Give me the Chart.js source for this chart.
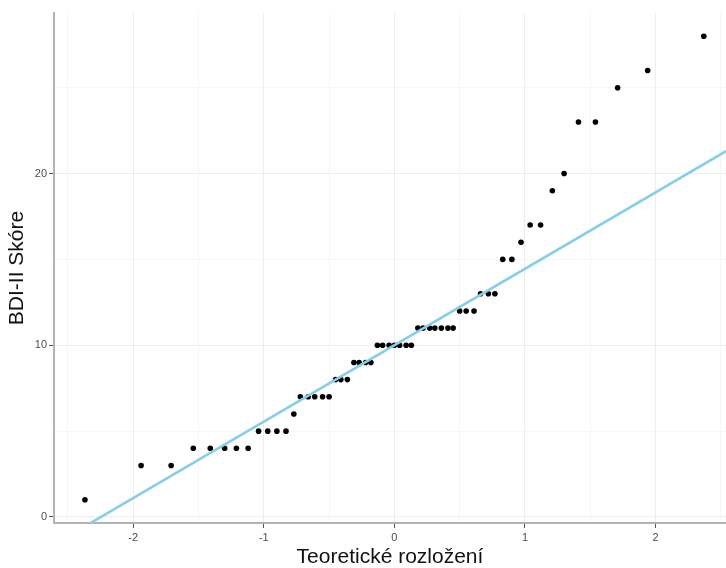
<!DOCTYPE html>
<html>
<head>
<meta charset="utf-8">
<script src="https://cdn.jsdelivr.net/npm/chart.js@4/dist/chart.umd.min.js"></script>
<style>
  html, body { margin: 0; padding: 0; background: #fff; }
  #wrap { width: 726px; height: 568px; }
</style>
</head>
<body>
<div id="wrap"><canvas id="myChart" width="726" height="568"></canvas></div>
<script>
// teoreticke kvantily (osa x) a namerene skore (osa y)
var teoretickeKvantily = [-2.37, -1.94, -1.71, -1.54, -1.41, -1.30, -1.21, -1.12, -1.04, -0.97,
  -0.90, -0.83, -0.77, -0.72, -0.66, -0.61, -0.55, -0.50, -0.45, -0.41,
  -0.36, -0.31, -0.27, -0.22, -0.18, -0.13, -0.09, -0.04, 0, 0.04,
  0.09, 0.13, 0.18, 0.22, 0.27, 0.31, 0.36, 0.41, 0.45, 0.50,
  0.55, 0.61, 0.66, 0.72, 0.77, 0.83, 0.90, 0.97, 1.04, 1.12,
  1.21, 1.30, 1.41, 1.54, 1.71, 1.94, 2.37];
var skore = [1, 3, 3, 4, 4, 4, 4, 4, 5, 5,
  5, 5, 6, 7, 7, 7, 7, 7, 8, 8,
  8, 9, 9, 9, 9, 10, 10, 10, 10, 10,
  10, 10, 11, 11, 11, 11, 11, 11, 11, 12,
  12, 12, 13, 13, 13, 15, 15, 16, 17, 17,
  19, 20, 23, 23, 25, 26, 28];

// primka (qq line), koncove body
var primkaX = [-2.61, 2.54];
var primkaY = [-1.61, 21.3];

var xTicks = [-2, -1, 0, 1, 2];
var yTicks = [0, 10, 20];

function jeHlavni(v, seznam) {
  for (var i = 0; i < seznam.length; i++) {
    if (Math.abs(seznam[i] - v) < 1e-6) return true;
  }
  return false;
}

function body(xs, ys) {
  var out = [];
  for (var i = 0; i < xs.length; i++) {
    out.push({x: xs[i], y: ys[i]});
  }
  return out;
}

var pismo = "'Liberation Sans', Arial, Helvetica, sans-serif";

var ctx = document.getElementById('myChart').getContext('2d');
var chart = new Chart(ctx, {
  type: 'scatter',
  data: {
    datasets: [{
      label: 'qqline',
      data: body(primkaX, primkaY),
      showLine: true,
      borderColor: '#87CEEB',
      borderWidth: 2.6,
      pointRadius: 0,
      order: 0
    }, {
      label: 'BDI-II',
      data: body(teoretickeKvantily, skore),
      backgroundColor: '#000',
      borderColor: '#000',
      pointRadius: 2.8,
      borderWidth: 0,
      order: 1
    }]
  },
  options: {
    responsive: false,
    animation: false,
    layout: { autoPadding: false, padding: { top: 13, right: 0, left: 0, bottom: 0 } },
    plugins: {
      legend: { display: false },
      tooltip: { enabled: false }
    },
    scales: {
      x: {
        type: 'linear',
        min: -2.607,
        max: 2.54,
        afterFit: function(scale) {
          scale.height = 45;
          scale.paddingRight = 0;
          scale.paddingLeft = 0;
        },
        ticks: {
          stepSize: 0.5,
          includeBounds: false,
          maxRotation: 0,
          autoSkip: false,
          padding: 3,
          color: '#4d4d4d',
          font: { family: pismo, size: 11 },
          callback: function(v) { return jeHlavni(v, xTicks) ? String(v) : ''; }
        },
        grid: {
          color: function(c) { return c.tick && jeHlavni(c.tick.value, xTicks) ? '#ededed' : '#f6f6f6'; },
          tickColor: function(c) { return c.tick && jeHlavni(c.tick.value, xTicks) ? '#555' : 'rgba(0,0,0,0)'; },
          tickLength: 5,
          lineWidth: 1
        },
        border: { display: true, color: '#b3b3b3', width: 2 },
        title: {
          display: true,
          text: 'Teoretické rozložení',
          color: '#111',
          font: { family: pismo, size: 21, lineHeight: 1.0 },
          padding: { top: 0, bottom: 0 }
        }
      },
      y: {
        type: 'linear',
        min: -0.35,
        max: 29.35,
        afterFit: function(scale) {
          scale.width = 54;
          scale.paddingTop = 0;
          scale.paddingBottom = 0;
        },
        ticks: {
          stepSize: 5,
          includeBounds: false,
          padding: 2,
          color: '#4d4d4d',
          font: { family: pismo, size: 11 },
          callback: function(v) { return jeHlavni(v, yTicks) ? String(v) : ''; }
        },
        grid: {
          color: function(c) { return c.tick && jeHlavni(c.tick.value, yTicks) ? '#ededed' : '#f6f6f6'; },
          tickColor: function(c) { return c.tick && jeHlavni(c.tick.value, yTicks) ? '#555' : 'rgba(0,0,0,0)'; },
          tickLength: 5,
          lineWidth: 1
        },
        border: { display: true, color: '#b3b3b3', width: 2 },
        title: {
          display: true,
          text: 'BDI-II Skóre',
          color: '#111',
          font: { family: pismo, size: 21, lineHeight: 1.2 },
          padding: { top: 5, bottom: 0 }
        }
      }
    }
  }
});
</script>
</body>
</html>
